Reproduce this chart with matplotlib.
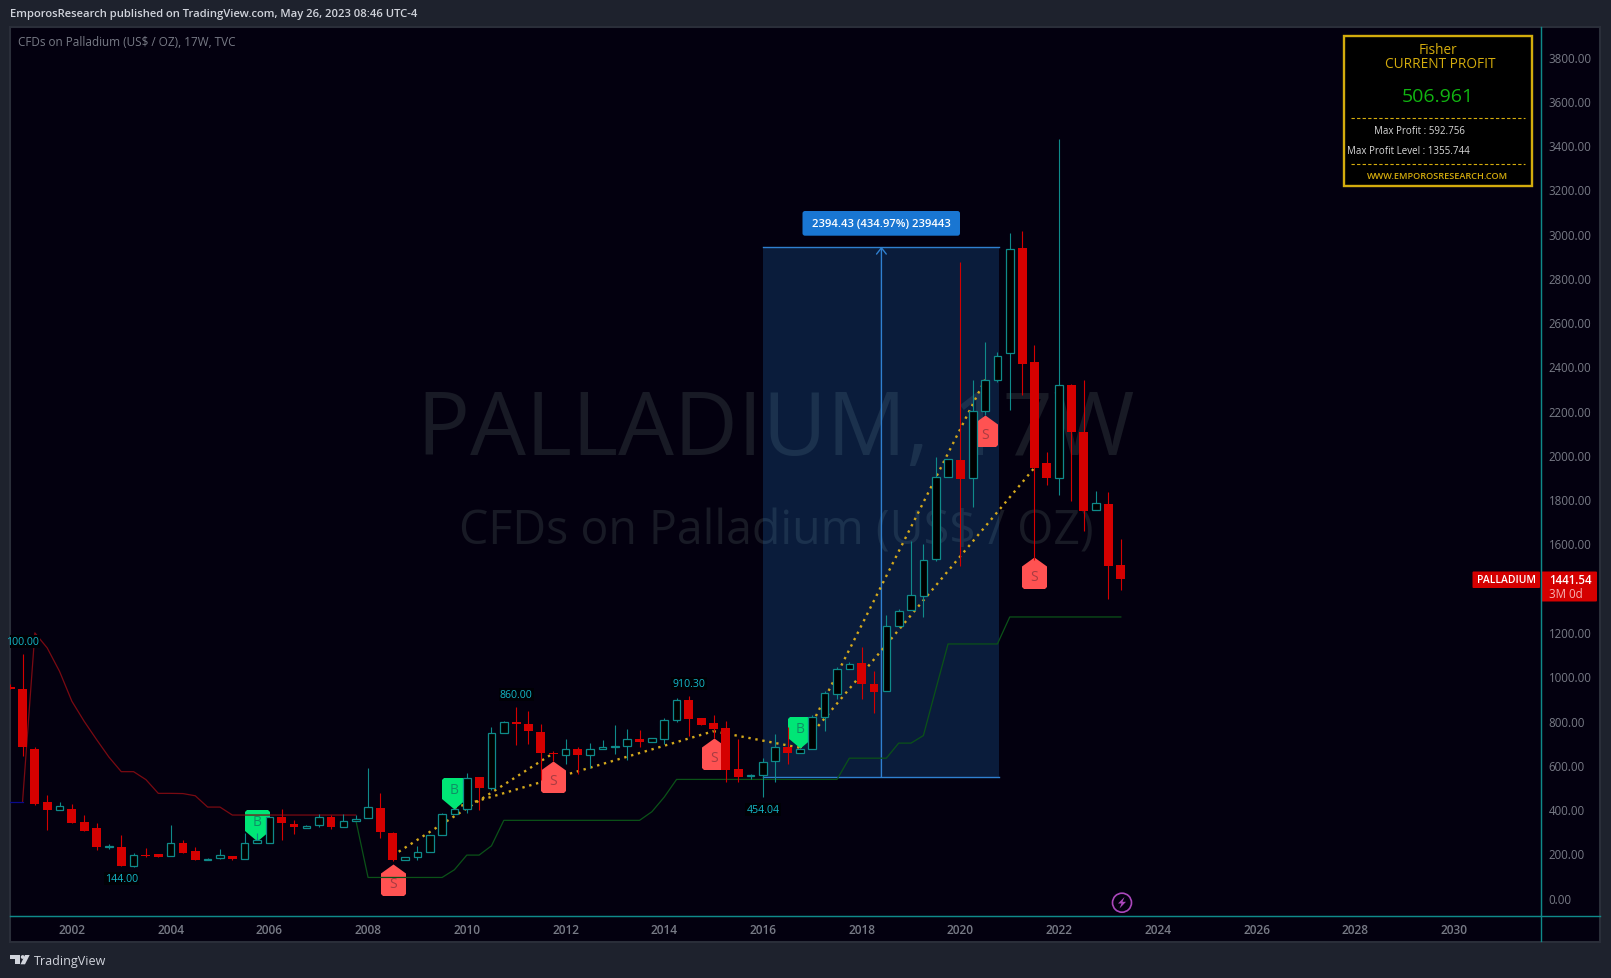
#! /usr/bin/env python3
import matplotlib
matplotlib.use('Agg')
import matplotlib.pyplot as plt
import numpy as np
from matplotlib.markers import MarkerStyle
from matplotlib.patches import Circle, FancyBboxPatch, Polygon, Rectangle
from matplotlib.path import Path

W, H = 1611, 979
plt.rcParams['font.family'] = ['Open Sans', 'DejaVu Sans']

# 17W candles, bar 0 sits on the 2002 tick, 8 bars per 2 years on the axis
bars = list(range(-5, 86))
opens = [953, 944, 673, 433, 396, 400, 343, 314, 227, 228, 143, 194, 198, 186, 247, 210, 170, 177, 188,
         174, 247, 245, 364, 332, 314, 326, 364, 319, 346, 360, 405, 292, 170, 182, 206, 283, 376, 400, 545, 495,
         744, 795, 786, 748, 655, 644, 671, 644, 671, 679, 685, 718, 703, 715, 801, 893, 811, 789, 766, 581,
         551, 552, 615, 680, 653, 671, 816, 920, 1033, 1060, 967, 932, 1226, 1298, 1361, 1528, 1899, 1977, 1896,
         2197, 2339, 2459, 2935, 2420, 1963, 1896, 2316, 2104, 1751, 1778, 1503]
closes = [941, 679, 424, 394, 414, 335, 302, 227, 233, 144, 192, 188, 185, 245, 200, 168, 176, 191, 173,
          247, 262, 364, 335, 317, 323, 364, 317, 346, 356, 409, 295, 168, 183, 206, 283, 376, 400, 540, 494, 744,
          793, 783, 751, 652, 647, 671, 643, 670, 680, 683, 717, 701, 721, 802, 893, 805, 781, 763, 575, 546,
          553, 612, 680, 652, 671, 816, 924, 1033, 1055, 964, 927, 1227, 1295, 1367, 1525, 1901, 1982, 1890, 2198,
          2339, 2447, 2931, 2409, 1939, 1894, 2316, 2102, 1745, 1783, 1497, 1441.54]
highs = [967, 1100, 682, 465, 432, 424, 373, 337, 240, 284, 201, 224, 198, 329, 262, 230, 180, 219, 190,
         292, 290, 364, 400, 352, 329, 379, 373, 378, 372, 585, 472, 298, 185, 235, 283, 382, 400, 563, 545, 771,
         799, 860, 845, 786, 664, 718, 679, 700, 713, 781, 763, 759, 721, 813, 903, 910.3, 811, 827, 799, 718,
         560, 631, 741, 771, 671, 825, 932, 1040, 1066, 1132, 1025, 1278, 1306, 1613, 1599, 1992, 1982, 2872, 2340,
         2512, 2465, 3003, 3013, 2498, 2015, 3429, 2320, 2340, 1839, 1834, 1620]
lows = [941, 641, 420, 304, 396, 335, 299, 213, 221, 144, 140, 183, 185, 186, 200, 168, 168, 173, 168,
        174, 247, 245, 262, 286, 314, 320, 311, 319, 346, 360, 268, 165, 168, 171, 206, 283, 376, 380, 394, 484,
        744, 688, 695, 533, 619, 605, 557, 584, 671, 647, 623, 679, 703, 695, 792, 731, 781, 721, 521, 521,
        537, 454.04, 521, 605, 653, 671, 751, 899, 1033, 896, 832, 932, 1226, 1298, 1266, 1519, 1899, 1497, 1763,
        2182, 2328, 2201, 2271, 1527, 1863, 1817, 1790, 1655, 1751, 1350, 1391]

# upper and lower trail of the Fisher script
red_bars = [-4, -3, -2, -1, 0, 1, 2, 3, 4, 5, 6, 7, 8, 9, 10, 11, 12, 13, 23]
red_vals = [432, 1196, 1128, 1022, 887, 796, 714, 635, 569, 569, 533, 471, 471, 470, 460, 409, 409, 373, 373]
blue_bars = [-5, -4]
blue_vals = [432, 432]
green_bars = [23, 24, 30, 31, 32, 33, 34, 35, 46, 47, 48, 49, 62, 63, 66, 67, 68, 69, 70, 71, 75, 76, 85]
green_vals = [352, 91, 91, 126, 192, 192, 234, 349, 349, 388, 454, 534, 534, 630, 630, 698, 698, 732, 940, 1146,
              1146, 1268, 1268]

# dotted connectors, (bar, price) pairs
dotted_lines = [
    ([26, 39], [190, 652]),
    ([31, 52], [406, 752]),
    ([52, 59], [752, 677]),
    ([59, 74], [677, 2340]),
    ([59, 78], [677, 1942]),
]

buy_bars = [15, 31, 59]
buy_prices = [256, 400, 677]
sell_bars = [26, 39, 52, 74, 78]
sell_prices = [152, 619, 721, 2181, 1539]

hl_bars = [-4, 4, 36, 50, 56]
hl_text = ['100.00', '144.00', '860.00', '910.30', '454.04']
hl_above = [True, False, True, True, False]

measure_left, measure_right, measure_mid = 56, 75.1, 65.6
measure_low, measure_top = 545, 2941

year_labels = list(range(2002, 2032, 2))
# 1400 is hidden by the last price tag on the original scale
price_ticks = [p for p in range(0, 4000, 200) if p != 1400]

BG = '#03000f'
CHROME = '#1e222d'
TEAL = '#0f8a8a'
RED = '#d50000'
GOLD = '#d4ac0d'
GREY = '#787b86'

fig = plt.figure(figsize=(W / 100, H / 100), dpi=100, facecolor=CHROME)

# frame behind everything
bg = fig.add_axes([0, 0, 1, 1], zorder=0)
bg.set_xlim(0, W)
bg.set_ylim(H, 0)
bg.axis('off')
bg.add_patch(Rectangle((10, 27.5), 1590, 915, fc=BG, ec='#2a2e39', lw=1.5))

# price chart, limits worked out so 1 bar = 12.34 px and 1 USD = 0.2213 px
ax = fig.add_axes([10 / W, 1 - 916.7 / H, 1531 / W, 889 / H], zorder=1)
ax.patch.set_alpha(0)
ax.set_xlim(-5.016, 119.05)
ax.set_ylim(-81.8, 3935)

ax.text((776 - 10) / 1531, 1 - (431 - 27) / 889, 'PALLADIUM, 17W', transform=ax.transAxes, ha='center', va='center',
        fontsize=63.5, color='#181a25', zorder=0.5)
ax.text((776 - 10) / 1531, 1 - (531 - 27) / 889, 'CFDs on Palladium (US$ / OZ)', transform=ax.transAxes, ha='center',
        va='center', fontsize=33.5, color='#181a25', zorder=0.5)

# measuring tool
ax.add_patch(Rectangle((measure_left, measure_low), measure_right - measure_left, measure_top - measure_low,
                       fc='#2b91f0', alpha=0.2, lw=0, zorder=1))
ax.plot([measure_left, measure_right], [measure_low, measure_low], color='#2f80d0', lw=1, zorder=1.5)
ax.plot([measure_left, measure_right], [measure_top, measure_top], color='#2f80d0', lw=1, zorder=1.5)
ax.annotate('', xy=(measure_mid, measure_top), xytext=(measure_mid, measure_low), zorder=1.5,
            arrowprops=dict(arrowstyle='->,head_length=0.45,head_width=0.35', color='#2f80d0', lw=1, shrinkA=0, shrinkB=0))

for xs, ys in dotted_lines:
    ax.plot(xs, ys, color='#d4a81c', lw=1.7, ls=(0, (1, 2)), zorder=2)

# buy / sell flags, tip sits on the anchor, sizes in px
buy_shape = Path([(0, 0), (12.5, 10.5), (12.5, 29.5), (10.5, 31.5), (-10.5, 31.5), (-12.5, 29.5), (-12.5, 10.5), (0, 0)],
                 closed=True)
sell_shape = Path([(0, 0), (12.5, -9), (12.5, -29.5), (10.5, -31.5), (-10.5, -31.5), (-12.5, -29.5), (-12.5, -9), (0, 0)],
                  closed=True)
marker_size = 2 * 31.5 * 0.72
ax.plot(buy_bars, buy_prices, ls='', marker=MarkerStyle(buy_shape), ms=marker_size, mfc='#00e676', mew=0, zorder=3)
ax.plot(sell_bars, sell_prices, ls='', marker=MarkerStyle(sell_shape), ms=marker_size, mfc='#ff5252', mew=0, zorder=3)
for b, p in zip(buy_bars, buy_prices):
    ax.annotate('B', (b, p), xytext=(0, 14), textcoords='offset points', ha='center', va='center', fontsize=10,
                color='#0f8f66', zorder=3.2)
for b, p in zip(sell_bars, sell_prices):
    ax.annotate('S', (b, p), xytext=(0, -14), textcoords='offset points', ha='center', va='center', fontsize=10,
                color='#a83c42', zorder=3.2)

ax.plot(red_bars, red_vals, color='#7a0a12', lw=0.9, zorder=3.5)
ax.plot(blue_bars, blue_vals, color='#0a0a8c', lw=0.9, zorder=3.5)
ax.plot(green_bars, green_vals, color='#0b5218', lw=0.9, zorder=3.5)

# candles
o = np.array(opens, dtype=float)
c = np.array(closes, dtype=float)
hi = np.array(highs, dtype=float)
lo = np.array(lows, dtype=float)
x = np.array(bars)
up = c >= o
ax.vlines(x[up], lo[up], hi[up], color=TEAL, lw=0.8, zorder=5)
ax.vlines(x[~up], lo[~up], hi[~up], color=RED, lw=0.8, zorder=5)
ax.bar(x[up], c[up] - o[up], bottom=o[up], width=0.62, fc='#000000', ec=TEAL, lw=0.9, zorder=6)
ax.bar(x[~up], o[~up] - c[~up], bottom=c[~up], width=0.72, fc=RED, lw=0, zorder=6)

# high / low labels
for b, txt, above in zip(hl_bars, hl_text, hl_above):
    price = hi[b + 5] if above else lo[b + 5]
    label = ax.annotate(txt, (b, price), xytext=(0, 9 if above else -9), textcoords='offset points', ha='center',
                        va='center', fontsize=7.6, color='#14b8c8', zorder=7,
                        bbox=dict(fc='#000005', ec='none', pad=0.8))
    label.set_clip_on(True)
    label.get_bbox_patch().set_clip_on(True)
    label.get_bbox_patch().set_clip_box(ax.bbox)

for side in ['top', 'left']:
    ax.spines[side].set_visible(False)
ax.spines['right'].set_color(TEAL)
ax.spines['bottom'].set_color(TEAL)
ax.yaxis.tick_right()
ax.set_yticks(price_ticks)
ax.set_yticklabels([f'{p:.2f}' for p in price_ticks], fontsize=8.3, color=GREY)
ax.set_xticks([(y - 2002) * 4 for y in year_labels])
ax.set_xticklabels([str(y) for y in year_labels], fontsize=8.6, color=GREY, fontweight='semibold')
ax.tick_params(axis='y', length=0, pad=5.5)
ax.tick_params(axis='x', length=0, pad=5.4)

# everything that is placed in screen pixels
top = fig.add_axes([0, 0, 1, 1], zorder=2)
top.set_xlim(0, W)
top.set_ylim(H, 0)
top.axis('off')
top.patch.set_alpha(0)

top.plot([10, 1600], [916.7, 916.7], color=TEAL, lw=1)
top.plot([1541, 1541], [27.5, 942], color=TEAL, lw=1)

top.text(10, 14.5, 'EmporosResearch published on TradingView.com, May 26, 2023 08:46 UTC-4', fontsize=8.1, color='#d1d4dc',
         va='center', fontweight='semibold')
top.text(17.5, 42, 'CFDs on Palladium (US$ / OZ), 17W, TVC', fontsize=8.5, color=GREY, va='center')

# script table
top.add_patch(Rectangle((1343.5, 37), 188, 149.5, fc='#000000', ec=GOLD, lw=1.7))
top.text(1438, 50.5, 'Fisher', fontsize=9.8, color=GOLD, ha='center', va='center')
top.text(1440, 64.5, 'CURRENT PROFIT', fontsize=9.8, color=GOLD, ha='center', va='center')
top.text(1437.5, 97, '506.961', fontsize=14, color='#11b511', ha='center', va='center')
top.plot([1351, 1525], [118.5, 118.5], color=GOLD, lw=0.8, ls=(0, (3, 2)))
top.text(1419, 131, 'Max Profit : 592.756', fontsize=7, color='#d8d8d8', ha='center', va='center')
top.text(1408, 151, 'Max Profit Level : 1355.744', fontsize=7, color='#d8d8d8', ha='center', va='center')
top.plot([1351, 1525], [164.5, 164.5], color=GOLD, lw=0.8, ls=(0, (3, 2)))
top.text(1438, 176.7, 'WWW.EMPOROSRESEARCH.COM', fontsize=6.6, color=GOLD, ha='center', va='center', fontweight='semibold')

# measure label
top.add_patch(FancyBboxPatch((802.5, 212), 157.5, 24.7, boxstyle='round,pad=0,rounding_size=2.5', fc='#1976d2', lw=0))
top.text(881, 224.3, '2394.43 (434.97%) 239443', fontsize=8.1, color='white', ha='center', va='center', fontweight='semibold')

# last price tags
top.add_patch(FancyBboxPatch((1472.5, 572.5), 67.5, 16.5, boxstyle='round,pad=0,rounding_size=1', fc=RED, lw=0))
top.add_patch(FancyBboxPatch((1541.5, 572.5), 55.5, 30, boxstyle='round,pad=0,rounding_size=1', fc=RED, lw=0))
top.text(1506, 581, 'PALLADIUM', fontsize=7.5, color='white', ha='center', va='center', fontweight='semibold')
top.text(1549, 581, '1441.54', fontsize=8.3, color='white', va='center', fontweight='semibold')
top.text(1549, 595, '3M 0d', fontsize=8.3, color='#f5b5b5', va='center')

# lightning badge
top.add_patch(Circle((1122, 903.7), 9.5, fc='none', ec='#ab47bc', lw=1.2))
top.add_patch(Polygon([(1124.5, 898), (1118, 904.5), (1121.5, 904.5), (1119.5, 909.5), (1126, 902.8), (1122.5, 902.8)],
                      fc='#ab47bc', lw=0))

# TradingView logo
logo = '#d1d4dc'
top.add_patch(Polygon([(10, 956), (19.5, 956), (19.5, 965.3), (14.5, 965.3), (14.5, 959.6), (10, 959.6)], fc=logo, lw=0))
top.add_patch(Circle((22.7, 958), 1.9, fc=logo, lw=0))
top.add_patch(Polygon([(25, 956), (29.7, 956), (25, 965.3), (20.5, 965.3)], fc=logo, lw=0))
top.text(33.5, 961.5, 'TradingView', fontsize=9, color=logo, va='center')

fig.savefig('out.png', dpi=100, facecolor=CHROME)
